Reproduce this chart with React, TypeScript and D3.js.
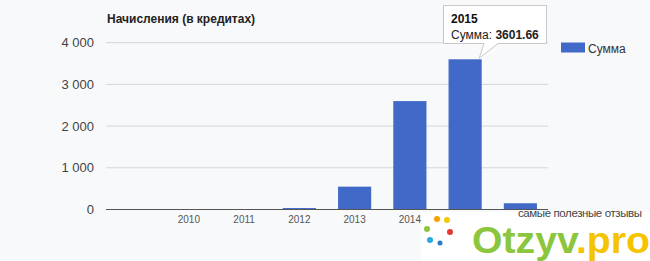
import React from "react";
import * as d3 from "d3";

const years = ["2009", "2010", "2011", "2012", "2013", "2014", "2015", "2016"];
const values = [0, 0, 0, 35, 548, 2600, 3601.66, 150];
const shownLabels = ["2010", "2011", "2012", "2013", "2014"];
const yTicks = [0, 1000, 2000, 3000, 4000];
const seriesName = "Сумма";
const title = "Начисления (в кредитах)";

const W = 650;
const H = 261;
const left = 106;
const right = 548;
const top = 42.7;
const bottom = 209.5;

export default function App() {
  const x = d3.scaleBand<string>().domain(years).range([left, right]).paddingInner(0.4).paddingOuter(0.2);
  const y = d3.scaleLinear().domain([0, 4000]).range([bottom, top]);
  const fmt = (v: number) => d3.format(",")(v).replace(/,/g, " ");
  const font = "Arial, 'Liberation Sans', sans-serif";
  const hi = years.indexOf("2015");
  const hx = (x(years[hi]) as number) + x.bandwidth() / 2;
  const hy = y(values[hi]);

  return (
    <svg width={W} height={H} style={{ position: "absolute", left: 0, top: 0, background: "#f8f9fb" }} fontFamily={font}>
      <rect x={0} y={0} width={W} height={H} fill="#f8f9fb" />
      <text x={107} y={23} fontSize={12} fontWeight="bold" fill="#222">{title}</text>
      {yTicks.map((t) => (
        <g key={t}>
          {t !== 0 && <line x1={left} x2={right} y1={y(t)} y2={y(t)} stroke="#d4d6da" strokeWidth={1} />}
          <text x={94} y={y(t) + 4.5} fontSize={13} textAnchor="end" fill="#444">{fmt(t)}</text>
        </g>
      ))}
      {years.map((yr, i) => (
        <rect key={yr} x={x(yr)} y={y(values[i])} width={x.bandwidth()} height={bottom - y(values[i])} fill="#4169c8" />
      ))}
      <line x1={left} x2={right} y1={bottom} y2={bottom} stroke="#555" strokeWidth={1} />
      {/* watermark background */}
      <rect x={421} y={212} width={229} height={49} fill="#ffffff" opacity={0.9} />
      {shownLabels.map((yr) => (
        <text key={yr} x={(x(yr) as number) + x.bandwidth() / 2} y={223} fontSize={10} textAnchor="middle" fill="#555">{yr}</text>
      ))}
      {/* legend */}
      <rect x={561} y={42.5} width={24} height={10} fill="#4169c8" />
      <text x={588} y={52.5} fontSize={12} fill="#333">{seriesName}</text>
      {/* tooltip */}
      <path
        d={`M443.5,5.5 H546.5 V43.5 H498 L${hx + 14},${hy - 1} L484,43.5 H443.5 Z`}
        fill="#fff"
        stroke="#c8c8c8"
        strokeWidth={1}
      />
      <text x={451} y={23} fontSize={12} fontWeight="bold" fill="#111">{years[hi]}</text>
      <text x={451} y={38.5} fontSize={12} fill="#222">
        {seriesName}: <tspan fontWeight="bold">{values[hi].toFixed(2)}</tspan>
      </text>
      {/* watermark */}
      <text x={518} y={216.5} fontSize={11.5} fill="#444" textLength={124}>самые полезные отзывы</text>
      <g>
        <circle cx={437} cy={219} r={3} fill="#f5a300" />
        <circle cx={447} cy={220} r={3} fill="#f6c800" />
        <circle cx={427} cy={229} r={3} fill="#8cc63f" />
        <circle cx={450} cy={232} r={3} fill="#e53935" />
        <circle cx={430} cy={240} r={3} fill="#29a9e1" />
        <circle cx={440} cy={243} r={2.5} fill="#2979c9" />
      </g>
      <text x={472} y={253} fontSize={37} fontWeight="bold" textLength={178} lengthAdjust="spacingAndGlyphs">
        <tspan fill="#8cc63f">Otzyv</tspan>
        <tspan fill="#f5c400">.pro</tspan>
      </text>
    </svg>
  );
}
